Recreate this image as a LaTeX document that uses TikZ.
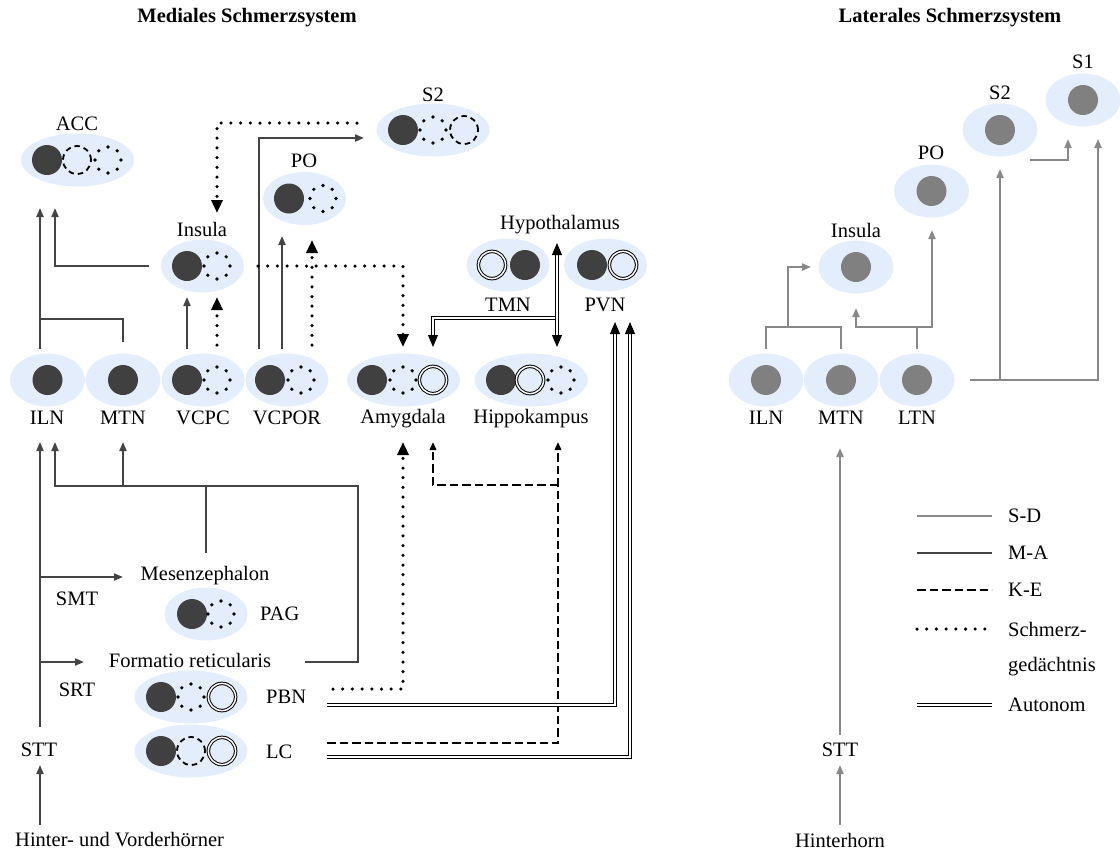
\documentclass[tikz,border=0pt]{standalone}
\usepackage{fontspec}
\setmainfont{Liberation Serif}
\usetikzlibrary{shapes.geometric,arrows.meta}

\definecolor{regionblue}{HTML}{E3EDFB}
\definecolor{cellmed}{HTML}{404040}
\definecolor{celllat}{HTML}{808080}
\definecolor{malinie}{HTML}{444444}
\definecolor{sdlinie}{HTML}{888888}

\tikzset{
  region/.style={ellipse, fill=regionblue, inner sep=0pt, minimum height=53pt, minimum width=113pt},
  regionii/.style={region, minimum width=83pt},
  regioni/.style={region, minimum width=75pt},
  lbl/.style={inner sep=0pt, font=\fontsize{20.5}{24}\selectfont},
  titel/.style={inner sep=0pt, font=\fontsize{20.5}{24}\selectfont\bfseries},
  maline/.style={draw=malinie, line width=2pt},
  sdline/.style={draw=sdlinie, line width=2pt},
  keline/.style={draw=black, line width=2pt, dash pattern=on 8.5pt off 4pt},
  sgline/.style={draw=black, line width=3.5pt, line cap=round, dash pattern=on 0pt off 9.7pt},
  autline/.style={draw=black, line width=1pt, double=white, double distance=1.6pt},
  matip/.style={-{Triangle[length=9pt,width=7pt]}},
  ketip/.style={-{Triangle[length=8pt,width=6.5pt]}},
  sgtip/.style={-{Triangle[length=13pt,width=11pt]}},
  auttip/.style={-{Triangle[length=12pt,width=10pt]}},
}

% cell symbols inside the regions
\newcommand\kernvoll[3]{\fill[#3] (#1,#2) circle (15pt);}
\newcommand\kernpunkt[2]{\foreach \w in {0,45,...,315} {\fill[black] (#1,#2) ++(\w:13pt) circle (1.8pt);}}
\newcommand\kernstrich[2]{\draw[black, line width=1.8pt, dash pattern=on 5.5pt off 4pt] (#1,#2) circle (14pt);}
\newcommand\kerndoppel[2]{\draw[black, line width=1pt, double=white, double distance=1.5pt] (#1,#2) circle (13.6pt);}

\begin{document}
\begin{tikzpicture}[x=1pt,y=-1pt]
\useasboundingbox (0,0) rectangle (1120,852);

% ---------- titles ----------
\node[titel] (tmed) at (247,18) {Mediales Schmerzsystem};
\node[titel] (tlat) at (950,18) {Laterales Schmerzsystem};

% ---------- medial regions ----------
\node[region]   (acc)   at (77.5,160)  {};
\node[region]   (s2m)   at (433,130)   {};
\node[regionii] (pom)   at (304.5,198.5) {};
\node[regionii] (insm)  at (202.5,266) {};
\node[regionii] (tmn)   at (508,265)   {};
\node[regionii] (pvn)   at (605.5,265) {};
\node[region]   (amy)   at (403.5,380) {};
\node[region]   (hip)   at (531,380)   {};
\node[regioni]  (ilnm)  at (47.5,380)  {};
\node[regioni]  (mtnm)  at (123,380)   {};
\node[regionii] (vcpc)  at (203,380)   {};
\node[regionii] (vcpor) at (287,380)   {};
\node[regionii] (pag)   at (206,614)   {};
\node[region]   (pbn)   at (191,697)   {};
\node[region]   (lc)    at (191,751)   {};

% cells
\kernvoll{47}{160}{cellmed}\kernstrich{77}{160}\kernpunkt{108}{160}
\kernvoll{403}{130}{cellmed}\kernpunkt{433}{130}\kernstrich{464}{130}
\kernvoll{289}{198.5}{cellmed}\kernpunkt{323}{198.5}
\kernvoll{187}{266}{cellmed}\kernpunkt{217}{266}
\kerndoppel{492}{265}\kernvoll{525}{265}{cellmed}
\kernvoll{592}{265}{cellmed}\kerndoppel{623}{265}
\kernvoll{372}{380}{cellmed}\kernpunkt{403}{380}\kerndoppel{433}{380}
\kernvoll{501}{380}{cellmed}\kerndoppel{530}{380}\kernpunkt{561}{380}
\kernvoll{47.5}{380}{cellmed}
\kernvoll{123}{380}{cellmed}
\kernvoll{187}{380}{cellmed}\kernpunkt{217}{380}
\kernvoll{270}{380}{cellmed}\kernpunkt{301}{380}
\kernvoll{192}{614}{cellmed}\kernpunkt{221}{614}
\kernvoll{161}{697}{cellmed}\kernpunkt{191}{697}\kerndoppel{222}{697}
\kernvoll{161}{751}{cellmed}\kernstrich{191}{751}\kerndoppel{222}{751}

% medial labels
\node[lbl] (accL)  at (77,124)  {ACC};
\node[lbl] (s2mL)  at (433,95)  {S2};
\node[lbl] (pomL)  at (304,161) {PO};
\node[lbl] (insmL) at (202,229) {Insula};
\node[lbl] (hypL)  at (560,225) {Hypothalamus};
\node[lbl] (tmnL)  at (508,305) {TMN};
\node[lbl] (pvnL)  at (605,305) {PVN};
\node[lbl] (amyL)  at (403,419) {Amygdala};
\node[lbl] (hipL)  at (531,419) {Hippokampus};
\node[lbl] (ilnmL) at (47,418)  {ILN};
\node[lbl] (mtnmL) at (123,418) {MTN};
\node[lbl] (vcpcL) at (203,418) {VCPC};
\node[lbl] (vcporL) at (287,418) {VCPOR};
\node[lbl] (mesL)  at (205,576) {Mesenzephalon};
\node[lbl] (smtL)  at (77,599)  {SMT};
\node[lbl, anchor=west] (pagL) at (260,614) {PAG};
\node[lbl] (forL)  at (190,660) {Formatio reticularis};
\node[lbl] (srtL)  at (77,690)  {SRT};
\node[lbl, anchor=west] (pbnL) at (266,697) {PBN};
\node[lbl, anchor=west] (lcL)  at (266,752) {LC};
\node[lbl] (sttmL) at (39,750)  {STT};
\node[lbl, anchor=west] (hvL) at (15,840) {Hinter- und Vorderhörner};

% ---------- medial connector end points ----------
\coordinate (hvTop)    at (40,825);
\coordinate (sttmBot)  at (40,765);
\coordinate (sttmTop)  at (40,727);
\coordinate (ilnmIn)   at (40,442);
\coordinate (smtFrom)  at (40,577);
\coordinate (mesIn)    at (123,577);
\coordinate (srtFrom)  at (40,662);
\coordinate (forIn)    at (84,662);
\coordinate (mesTop)   at (206,553);
\coordinate (mesBar)   at (206,486);
\coordinate (forOut)   at (305,662);
\coordinate (ilnmIn2)  at (55,442);
\coordinate (mtnBar)   at (123,486);
\coordinate (mtnmIn)   at (123,442);
\coordinate (ilnmTop)  at (40,349);
\coordinate (accIn)    at (40,208);
\coordinate (ilnTee)   at (40,319);
\coordinate (mtnmTop)  at (123,342);
\coordinate (insmOut)  at (149,266);
\coordinate (accIn2)   at (55,208);
\coordinate (vcpcTop)  at (187,349);
\coordinate (insmIn)   at (187,297);
\coordinate (vcpcTopD) at (217,345);
\coordinate (insmInD)  at (217,297);
\coordinate (vcporTop) at (259,349);
\coordinate (s2mIn)    at (364,138);
\coordinate (vcporTop2) at (282,349);
\coordinate (pomIn)    at (282,236);
\coordinate (vcporTopD) at (312,345);
\coordinate (pomInD)   at (312,240);
\coordinate (insmOutD) at (258,266);
\coordinate (amyInTop) at (403,347);
\coordinate (s2mOutD)  at (357,123);
\coordinate (insmInTop) at (217,213);
\coordinate (pbnOutD)  at (333,689);
\coordinate (amyInBot) at (403,442);
\coordinate (lcOutK)   at (327,743);
\coordinate (hipInBot) at (558,442);
\coordinate (keTee)    at (558,485);
\coordinate (amyInBot2) at (433,442);
\coordinate (hypIn)    at (557,243);
\coordinate (hipInTop) at (557,347);
\coordinate (hypTee)   at (557,318);
\coordinate (amyInTop2) at (433,347);
\coordinate (pbnOutA)  at (327,705);
\coordinate (pvnIn)    at (615,322);
\coordinate (lcOutA)   at (327,757);
\coordinate (pvnIn2)   at (630,322);

% M-A pathways
\draw[maline,matip] (hvTop) -- (sttmBot);
\draw[maline,matip] (sttmTop) -- (ilnmIn);
\draw[maline,matip] (smtFrom) -- (mesIn);
\draw[maline,matip] (srtFrom) -- (forIn);
\draw[maline] (mesTop) -- (mesBar);
\draw[maline,matip] (forOut) -| (mtnBar -| 358,0) -| (ilnmIn2);
\draw[maline,matip] (mtnBar) -- (mtnmIn);
\draw[maline,matip] (ilnmTop) -- (accIn);
\draw[maline] (ilnTee) -| (mtnmTop);
\draw[maline,matip] (insmOut) -| (accIn2);
\draw[maline,matip] (vcpcTop) -- (insmIn);
\draw[maline,matip] (vcporTop) |- (s2mIn);
\draw[maline,matip] (vcporTop2) -- (pomIn);

% Schmerzgedaechtnis pathways
\draw[sgline,sgtip] (vcpcTopD) -- (insmInD);
\draw[sgline,sgtip] (vcporTopD) -- (pomInD);
\draw[sgline,sgtip] (insmOutD) -| (amyInTop);
\draw[sgline,sgtip] (s2mOutD) -| (insmInTop);
\draw[sgline,sgtip] (pbnOutD) -| (amyInBot);

% K-E pathways
\draw[keline,ketip] (lcOutK) -| (hipInBot);
\draw[keline,ketip] (keTee) -| (amyInBot2);

% autonomic pathways
\draw[autline,auttip] (hypTee) -| (amyInTop2);
\draw[autline,{Triangle[length=12pt,width=10pt]}-{Triangle[length=12pt,width=10pt]}] (hypIn) -- (hipInTop);
\draw[autline,auttip] (pbnOutA) -| (pvnIn);
\draw[autline,auttip] (lcOutA) -| (pvnIn2);

% ---------- lateral regions ----------
\node[regioni] (ilnl) at (766,380)   {};
\node[regioni] (mtnl) at (841,380)   {};
\node[regioni] (ltnl) at (917,380)   {};
\node[regioni] (insl) at (856,267)   {};
\node[regioni] (pol)  at (931.5,191) {};
\node[regioni] (s2l)  at (1000,130)  {};
\node[regioni] (s1l)  at (1083,100)  {};
\kernvoll{766}{380}{celllat}
\kernvoll{841}{380}{celllat}
\kernvoll{917}{380}{celllat}
\kernvoll{856}{267}{celllat}
\kernvoll{931.5}{191}{celllat}
\kernvoll{1000}{130}{celllat}
\kernvoll{1083}{100}{celllat}

\node[lbl] (ilnlL) at (766,418)  {ILN};
\node[lbl] (mtnlL) at (841,418)  {MTN};
\node[lbl] (ltnlL) at (917,418)  {LTN};
\node[lbl] (inslL) at (856,230)  {Insula};
\node[lbl] (polL)  at (931,153)  {PO};
\node[lbl] (s2lL)  at (1000,93)  {S2};
\node[lbl] (s1lL)  at (1083,62)  {S1};
\node[lbl] (sttlL) at (840,750)  {STT};
\node[lbl] (hhL)   at (840,840)  {Hinterhorn};

% ---------- lateral connector end points ----------
\coordinate (ilnlTop) at (766,349);
\coordinate (mtnlTop) at (841,349);
\coordinate (latBar)  at (788,327);
\coordinate (inslIn)  at (811,267);
\coordinate (ltnlTop) at (917,349);
\coordinate (ltnTee)  at (917,327);
\coordinate (inslInB) at (856,308);
\coordinate (polIn)   at (932,230);
\coordinate (ltnlOut) at (970,380);
\coordinate (s2lRise) at (1000,380);
\coordinate (s2lIn)   at (1000,169);
\coordinate (s1lIn)   at (1098,139);
\coordinate (s2lOut)  at (1030,160);
\coordinate (s1lIn2)  at (1068,139);
\coordinate (hhTop)   at (840,825);
\coordinate (sttlBot) at (840,765);
\coordinate (sttlTop) at (840,735);
\coordinate (mtnlIn)  at (840,448);

% S-D pathways
\draw[sdline,matip] (hhTop) -- (sttlBot);
\draw[sdline,matip] (sttlTop) -- (mtnlIn);
\draw[sdline] (ilnlTop) |- (mtnlTop |- latBar) -- (mtnlTop);
\draw[sdline,matip] (latBar) |- (inslIn);
\draw[sdline] (ltnlTop) -- (ltnTee);
\draw[sdline,matip] (ltnTee) -| (inslInB);
\draw[sdline,matip] (ltnTee) -| (polIn);
\draw[sdline,matip] (ltnlOut) -| (s1lIn);
\draw[sdline,matip] (s2lRise) -- (s2lIn);
\draw[sdline,matip] (s2lOut) -| (s1lIn2);

% ---------- legend ----------
\coordinate (lgA1) at (917,516); \coordinate (lgA2) at (992,516);
\coordinate (lgB1) at (917,553); \coordinate (lgB2) at (992,553);
\coordinate (lgC1) at (917,590); \coordinate (lgC2) at (992,590);
\coordinate (lgD1) at (917,629); \coordinate (lgD2) at (992,629);
\coordinate (lgE1) at (917,705); \coordinate (lgE2) at (992,705);
\draw[sdline]  (lgA1) -- (lgA2);
\draw[maline]  (lgB1) -- (lgB2);
\draw[keline]  (lgC1) -- (lgC2);
\draw[sgline]  (lgD1) -- (lgD2);
\draw[autline] (lgE1) -- (lgE2);
\node[lbl, anchor=west] (lgAL) at (1008,516) {S-D};
\node[lbl, anchor=west] (lgBL) at (1008,553) {M-A};
\node[lbl, anchor=west] (lgCL) at (1008,590) {K-E};
\node[lbl, anchor=west] (lgDL) at (1008,629) {Schmerz-};
\node[lbl, anchor=west] (lgDL2) at (1008,667) {gedächtnis};
\node[lbl, anchor=west] (lgEL) at (1008,705) {Autonom};
\end{tikzpicture}
\end{document}
